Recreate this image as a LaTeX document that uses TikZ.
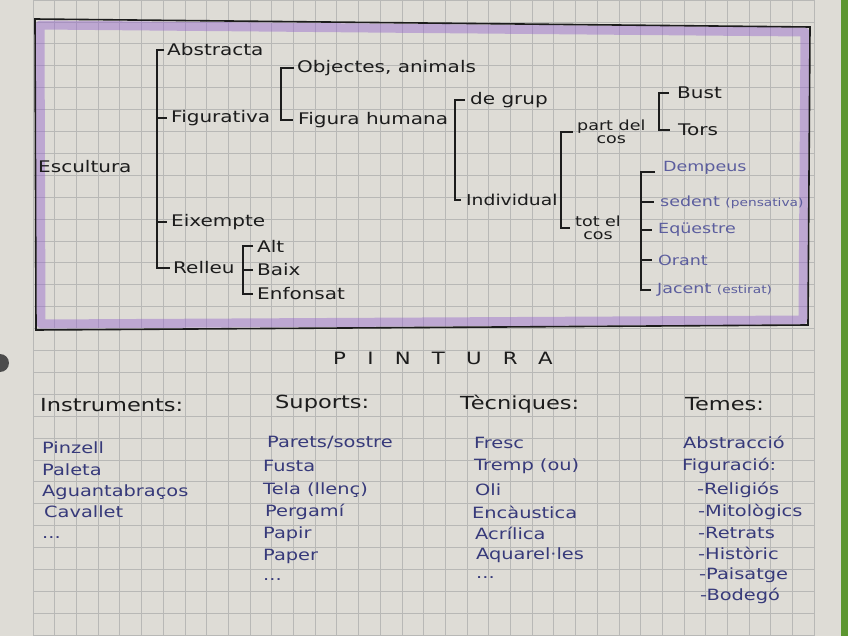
\documentclass[tikz,border=0pt]{standalone}
\usepackage{fontspec}
\setmainfont[FakeStretch=1.25]{DejaVu Sans}
\usepackage{tikz}
\usetikzlibrary{calc}

\definecolor{paper}{RGB}{222,220,214}
\definecolor{gridline}{RGB}{184,184,182}
\definecolor{ink}{RGB}{28,28,28}
\definecolor{blueink}{RGB}{55,58,122}
\definecolor{paleink}{RGB}{92,94,158}
\definecolor{wash}{RGB}{150,104,205}
\definecolor{leaf}{RGB}{92,150,48}

\begin{document}
\begin{tikzpicture}[
    x=1pt, y=-1pt,
    hand/.style={inner sep=0pt, anchor=west, text=ink, font=\fontsize{16}{17}\selectfont},
    subhand/.style={hand, font=\fontsize{14}{13}\selectfont, align=center},
    bluehand/.style={hand, text=paleink, font=\fontsize{14}{15}\selectfont},
    item/.style={hand, text=blueink, font=\fontsize{15.5}{17}\selectfont},
    head/.style={hand, font=\fontsize{18}{19}\selectfont},
    brk/.style={draw=ink, line width=1.1pt}
]
    \useasboundingbox (0,0) rectangle (848,636);
    \fill[paper] (0,0) rectangle (848,636);
    \fill[leaf] (841,0) rectangle (848,636);
    \foreach \gx in {0,...,36}
        \draw[gridline, line width=0.7pt] ({33+21.7*\gx},0) -- ({33+21.7*\gx},636);
    \foreach \gy in {0,...,29}
        \draw[gridline, line width=0.7pt] (33,{21.9*\gy}) -- (814,{21.9*\gy});
    \fill[black!70] (0,363) circle (9);

    % box around the sculpture tree
    \draw[wash, line width=9pt, opacity=0.45, line join=round]
        (40,25) -- (805,32) -- (803,320) -- (41,324) -- cycle;
    \draw[ink, line width=1.6pt] (35,19) -- (810,27) -- (808,325) -- (36,330) -- cycle;

    % Escultura
    \node[hand] (esc) at (38,167) {Escultura};
    \node[hand] (abs) at (167,50) {Abstracta};
    \node[hand] (fig) at (171,118) {Figurativa};
    \node[hand] (exe) at (171,222) {Eixempte};
    \node[hand] (rel) at (173,268) {Relleu};
    \coordinate (s1) at ($(abs.west)+(-10,0)$);
    \draw[brk] ([xshift=-3]abs.west) -- (s1) |- ([xshift=-3]rel.west);
    \draw[brk] (s1 |- fig.west) -- ([xshift=-4]fig.west);
    \draw[brk] (s1 |- exe.west) -- ([xshift=-4]exe.west);

    \node[hand] (alt) at (257,246) {Alt};
    \node[hand] (baix) at (257,270) {Baix};
    \node[hand] (enf) at (257,294) {Enfonsat};
    \coordinate (s2) at ($(alt.west)+(-14,0)$);
    \draw[brk] ([xshift=-4]alt.west) -- (s2) |- ([xshift=-4]enf.west);
    \draw[brk] (s2 |- baix.west) -- ([xshift=-4]baix.west);

    \node[hand] (obj) at (297,68) {Objectes, animals};
    \node[hand] (hum) at (298,120) {Figura humana};
    \coordinate (s3) at ($(obj.west)+(-16,0)$);
    \draw[brk] ([xshift=-3]obj.west) -- (s3) |- ([xshift=-5]hum.west);

    \node[hand] (grup) at (470,100) {de grup};
    \node[hand, font=\fontsize{15}{16}\selectfont] (ind) at (466,200) {Individual};
    \coordinate (s4) at ($(grup.west)+(-15,0)$);
    \draw[brk] ([xshift=-5]grup.west) -- (s4) |- ([xshift=-5]ind.west);

    \node[subhand] (part) at (577,132) {part del\\cos};
    \node[subhand] (tot) at (575,228) {tot el\\cos};
    \coordinate (s5) at ($(part.west)+(-16,0)$);
    \draw[brk] ([xshift=-4]part.west) -- (s5) |- ([xshift=-5]tot.west);

    \node[hand] (bust) at (677,93) {Bust};
    \node[hand] (tors) at (678,130) {Tors};
    \coordinate (s6) at ($(bust.west)+(-18,0)$);
    \draw[brk] ([xshift=-8]bust.west) -- (s6) |- ([xshift=-8]tors.west);

    \node[bluehand] (dem) at (663,168) {Dempeus};
    \node[bluehand] (sed) at (660,202) {sedent {\fontsize{11}{12}\selectfont(pensativa)}};
    \node[bluehand] (equ) at (658,230) {Eqüestre};
    \node[bluehand] (ora) at (658,260) {Orant};
    \node[bluehand] (jac) at (657,290) {Jacent {\fontsize{11}{12}\selectfont(estirat)}};
    \coordinate (s7) at ($(dem.west)+(-22,4)$);
    \draw[brk] ([xshift=-8]dem.west |- s7) -- (s7) |- ([xshift=-6]jac.west);
    \draw[brk] (s7 |- sed.west) -- ([xshift=-6]sed.west);
    \draw[brk] (s7 |- equ.west) -- ([xshift=-6]equ.west);
    \draw[brk] (s7 |- ora.west) -- ([xshift=-6]ora.west);

    % Pintura
    \node[hand, font=\fontsize{17}{18}\selectfont\addfontfeature{LetterSpace=125}] (pint) at (333,358) {PINTURA};

    \node[head] (instr) at (40,405) {Instruments:};
    \node[head] (sup) at (275,404) {Suports:};
    \node[head] (tec) at (460,404) {Tècniques:};
    \node[head] (tem) at (685,404) {Temes:};

    \node[item] (pinz) at (42,448) {Pinzell};
    \node[item] (pal) at (42,470) {Paleta};
    \node[item] (agu) at (42,492) {Aguantabraços};
    \node[item] (cav) at (44,512) {Cavallet};
    \node[item] (ins5) at (42,538) {...};

    \node[item] (par) at (267,443) {Parets/sostre};
    \node[item] (fus) at (263,466) {Fusta};
    \node[item] (tela) at (263,490) {Tela (llenç)};
    \node[item] (perg) at (265,512) {Pergamí};
    \node[item] (papir) at (263,534) {Papir};
    \node[item] (paper) at (263,556) {Paper};
    \node[item] (sup7) at (263,580) {...};

    \node[item] (fresc) at (474,443) {Fresc};
    \node[item] (tremp) at (474,466) {Tremp (ou)};
    \node[item] (oli) at (475,490) {Oli};
    \node[item] (enc) at (472,512) {Encàustica};
    \node[item] (acr) at (475,533) {Acrílica};
    \node[item] (aqu) at (476,555) {Aquarel·les};
    \node[item] (tec7) at (476,578) {...};

    \node[item] (abstr) at (683,442) {Abstracció};
    \node[item] (figur) at (682,466) {Figuració:};
    \node[item] (relig) at (697,490) {-Religiós};
    \node[item] (mito) at (698,512) {-Mitològics};
    \node[item] (retr) at (698,533) {-Retrats};
    \node[item] (hist) at (698,553) {-Històric};
    \node[item] (pais) at (699,575) {-Paisatge};
    \node[item] (bod) at (700,596) {-Bodegó};
\end{tikzpicture}
\end{document}
